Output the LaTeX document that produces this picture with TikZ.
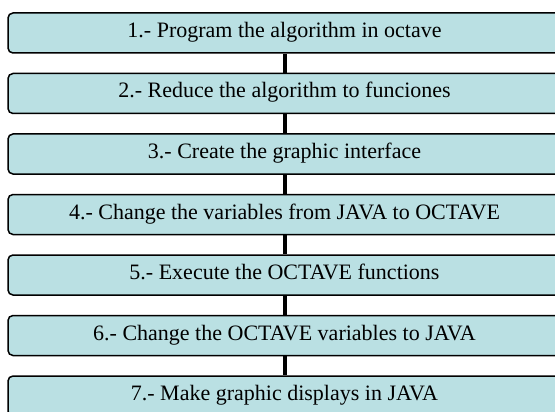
\documentclass[tikz,border=0pt]{standalone}
\usepackage{fontspec}
\setmainfont{Liberation Serif}
\usepackage{tikz}
\definecolor{stepfill}{RGB}{186,224,227}

\begin{document}
\begin{tikzpicture}[x = 1pt, y = -1pt, line width = 1.5pt,
    stepbox/.style = {draw, fill = stepfill, rounded corners = 5pt, minimum width = 553pt, minimum height = 40pt, inner sep = 0pt, text height = 15pt, text depth = 6pt, font = \fontsize{22}{24}\selectfont},
    link/.style = {line width = 4pt}]
\useasboundingbox (0,0) rectangle (555,412);
\clip (0,0) rectangle (555,412);
\draw (284.5,33) node[stepbox](a1){1.- Program the algorithm in octave}
    (284.5,93.5) node[stepbox](a2){2.- Reduce the algorithm to funciones}
    (284.5,154) node[stepbox](a3){3.- Create the graphic interface}
    (284.5,214.5) node[stepbox](a4){4.- Change the variables from JAVA to OCTAVE}
    (284.5,275) node[stepbox](a5){5.- Execute the OCTAVE functions}
    (284.5,335.5) node[stepbox](a6){6.- Change the OCTAVE variables to JAVA}
    (284.5,396) node[stepbox](a7){7.- Make graphic displays in JAVA};
    \draw [link] (a1) -- (a2);
    \draw [link] (a2) -- (a3);
    \draw [link] (a3) -- (a4);
    \draw [link] (a4) -- (a5);
    \draw [link] (a5) -- (a6);
    \draw [link] (a6) -- (a7);
\end{tikzpicture}
\end{document}
